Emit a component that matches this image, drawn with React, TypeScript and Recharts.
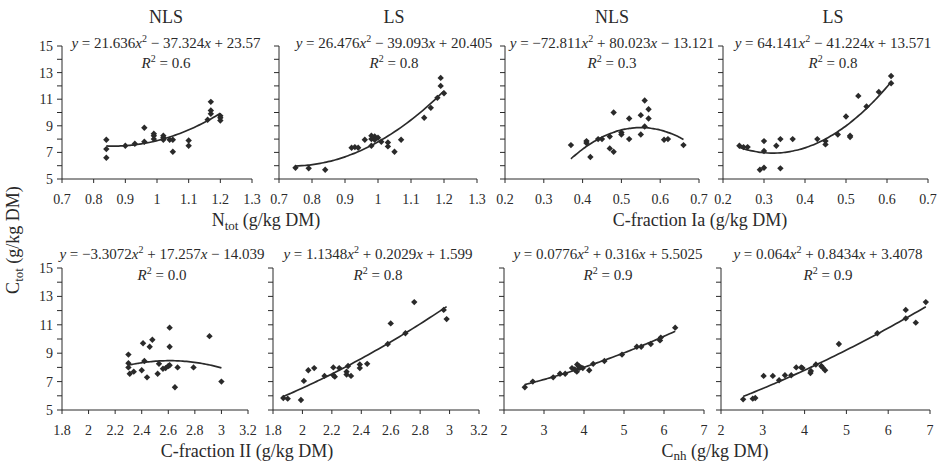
import React from 'react'
import { ScatterChart, Scatter, XAxis, YAxis } from 'recharts'

const FONT = 'Liberation Serif, DejaVu Serif, serif'
const INK = '#2a2a2a'

// N_tot (g/kg DM)
const nlsNtotX = [0.84, 0.84, 0.84, 0.9, 0.93, 0.96, 0.96, 0.99, 0.99, 0.99, 1.02, 1.02, 1.02, 1.04, 1.05, 1.05, 1.1, 1.1, 1.16, 1.17, 1.17, 1.17, 1.2, 1.2, 1.2]
const nlsNtotY = [7.95, 7.25, 6.6, 7.5, 7.65, 8.85, 7.8, 8.4, 8.25, 8.0, 8.25, 8.1, 7.95, 7.95, 7.95, 7.05, 7.9, 7.5, 9.45, 10.8, 10.15, 9.9, 9.75, 9.6, 9.4]
const lsNtotX = [0.75, 0.79, 0.84, 0.92, 0.93, 0.94, 0.96, 0.98, 0.98, 0.98, 0.99, 0.99, 1.0, 1.01, 1.03, 1.03, 1.05, 1.07, 1.14, 1.16, 1.18, 1.19, 1.19, 1.2]
const lsNtotY = [5.85, 5.8, 5.7, 7.35, 7.4, 7.35, 7.95, 7.5, 8.25, 8.0, 8.2, 7.95, 8.1, 7.8, 7.75, 7.45, 7.05, 7.95, 9.6, 10.35, 11.1, 12.6, 12.0, 11.45]

// C-fraction Ia
const nlsIaX = [0.37, 0.41, 0.41, 0.42, 0.44, 0.45, 0.47, 0.47, 0.48, 0.48, 0.5, 0.5, 0.52, 0.52, 0.55, 0.55, 0.56, 0.56, 0.57, 0.57, 0.61, 0.62, 0.66]
const nlsIaY = [7.55, 7.85, 7.7, 6.65, 8.0, 8.0, 8.2, 7.3, 10.0, 7.05, 8.5, 8.35, 9.55, 8.0, 9.8, 8.35, 10.9, 8.95, 10.25, 9.55, 7.95, 8.0, 7.55]
const lsIaX = [0.24, 0.25, 0.26, 0.29, 0.3, 0.3, 0.3, 0.33, 0.34, 0.34, 0.37, 0.43, 0.45, 0.45, 0.48, 0.5, 0.51, 0.51, 0.53, 0.55, 0.58, 0.61, 0.61]
const lsIaY = [7.5, 7.4, 7.4, 5.7, 7.85, 7.1, 5.85, 7.5, 8.0, 5.8, 8.0, 8.0, 7.85, 7.6, 8.35, 9.7, 8.25, 8.15, 11.25, 10.45, 11.55, 12.75, 12.2]

// C-fraction II
const nlsIIX = [2.3, 2.3, 2.3, 2.31, 2.34, 2.4, 2.41, 2.42, 2.44, 2.46, 2.48, 2.52, 2.53, 2.56, 2.58, 2.6, 2.61, 2.61, 2.61, 2.65, 2.67, 2.79, 2.91, 3.0]
const nlsIIY = [8.9, 8.3, 8.0, 7.55, 7.7, 7.8, 9.7, 8.45, 7.3, 9.45, 9.95, 7.55, 8.25, 7.9, 7.95, 8.1, 10.8, 9.45, 8.15, 6.6, 8.0, 8.0, 10.2, 7.0]
const lsIIX = [1.87, 1.9, 1.99, 2.01, 2.04, 2.08, 2.15, 2.21, 2.21, 2.22, 2.25, 2.3, 2.3, 2.31, 2.33, 2.39, 2.39, 2.44, 2.58, 2.6, 2.7, 2.76, 2.96, 2.98]
const lsIIY = [5.85, 5.8, 5.7, 7.05, 7.8, 7.95, 7.4, 8.0, 7.45, 7.35, 7.95, 7.7, 7.5, 8.1, 7.4, 8.2, 7.95, 8.25, 9.65, 11.1, 10.4, 12.6, 12.05, 11.4]

// C_nh
const nlsNhX = [2.52, 2.72, 3.23, 3.4, 3.53, 3.7, 3.77, 3.82, 3.83, 3.87, 3.88, 3.92, 3.97, 4.13, 4.23, 4.51, 4.95, 5.32, 5.43, 5.67, 5.9, 5.92, 6.28]
const nlsNhY = [6.6, 7.0, 7.3, 7.55, 7.55, 7.95, 7.85, 7.7, 8.2, 8.1, 7.95, 8.0, 7.95, 7.8, 8.25, 8.45, 8.9, 9.45, 9.45, 9.65, 9.9, 10.1, 10.8]
const lsNhX = [2.53, 2.76, 2.82, 3.02, 3.24, 3.39, 3.53, 3.68, 3.8, 3.92, 3.95, 4.14, 4.15, 4.27, 4.4, 4.43, 4.49, 4.82, 5.74, 6.42, 6.42, 6.66, 6.9]
const lsNhY = [5.75, 5.8, 5.85, 7.4, 7.4, 7.1, 7.45, 7.45, 8.0, 8.0, 7.95, 7.6, 7.75, 8.2, 8.1, 8.0, 7.8, 9.65, 10.4, 12.05, 11.45, 11.15, 12.6]

// quadratic trendline coefficients [a, b, c] for y = ax^2 + bx + c
const coefNlsNtot = [21.636, -37.324, 23.57]
const coefLsNtot = [26.476, -39.093, 20.405]
const coefNlsIa = [-72.811, 80.023, -13.121]
const coefLsIa = [64.141, -41.224, 13.571]
const coefNlsII = [-3.3072, 17.257, -14.039]
const coefLsII = [1.1348, 0.2029, 1.599]
const coefNlsNh = [0.0776, 0.316, 5.5025]
const coefLsNh = [0.064, 0.8434, 3.4078]

const rSquared = ['0.6', '0.8', '0.3', '0.8', '0.0', '0.8', '0.9', '0.9']
const groupTitles = ['NLS', 'LS', 'NLS', 'LS']

const yTicks = [5, 6, 7, 8, 9, 10, 11, 12, 13, 14, 15]
const ntotTicks = [0.7, 0.8, 0.9, 1, 1.1, 1.2, 1.3]
const iaTicks = [0.2, 0.3, 0.4, 0.5, 0.6, 0.7]
const iiTicks = [1.8, 2, 2.2, 2.4, 2.6, 2.8, 3, 3.2]
const nhTicks = [2, 3, 4, 5, 6, 7]

// plot rectangles [left, top, right, bottom] and label anchors
const panels = [
  { xs: nlsNtotX, ys: nlsNtotY, coef: coefNlsNtot, ticks: ntotTicks, box: [62, 46, 252, 179], labelX: 166, yLabels: true },
  { xs: lsNtotX, ys: lsNtotY, coef: coefLsNtot, ticks: ntotTicks, box: [279, 46, 477, 179], labelX: 394, yLabels: false },
  { xs: nlsIaX, ys: nlsIaY, coef: coefNlsIa, ticks: iaTicks, box: [505, 46, 699, 179], labelX: 612, yLabels: false },
  { xs: lsIaX, ys: lsIaY, coef: coefLsIa, ticks: iaTicks, box: [723, 46, 928, 179], labelX: 833, yLabels: false },
  { xs: nlsIIX, ys: nlsIIY, coef: coefNlsII, ticks: iiTicks, box: [62, 268, 248, 410], labelX: 162, yLabels: true },
  { xs: lsIIX, ys: lsIIY, coef: coefLsII, ticks: iiTicks, box: [273, 268, 479, 410], labelX: 378, yLabels: false },
  { xs: nlsNhX, ys: nlsNhY, coef: coefNlsNh, ticks: nhTicks, box: [504, 268, 704, 410], labelX: 608, yLabels: false },
  { xs: lsNhX, ys: lsNhY, coef: coefLsNh, ticks: nhTicks, box: [721, 268, 930, 410], labelX: 828, yLabels: false },
]

const ML = 40
const MR = 16
const MT = 10
const XH = 34

function trend(xs: number[], coef: number[]) {
  const lo = Math.min(...xs)
  const hi = Math.max(...xs)
  const n = 48
  const pts = []
  for (let i = 0; i <= n; i++) {
    const x = lo + ((hi - lo) * i) / n
    pts.push({ x, y: coef[0] * x * x + coef[1] * x + coef[2] })
  }
  return pts
}

const Diamond = (props: any) => {
  const { cx, cy } = props
  const r = 3.2
  return <polygon points={`${cx},${cy - r} ${cx + r},${cy} ${cx},${cy + r} ${cx - r},${cy}`} fill={INK} />
}

const NoDot = () => <g />

function signed(v: number) {
  return (v < 0 ? ' − ' : ' + ') + Math.abs(v)
}

function Equation({ coef, x, y }: { coef: number[]; x: number; y: number }) {
  const first = coef[0] < 0 ? '−' + Math.abs(coef[0]) : String(coef[0])
  return (
    <text x={x} y={y} textAnchor="middle" fontSize={15} fill={INK} style={{ fontFamily: FONT }}>
      <tspan fontStyle="italic">y</tspan>
      <tspan>{' = ' + first}</tspan>
      <tspan fontStyle="italic">x</tspan>
      <tspan dy={-6} fontSize={10}>2</tspan>
      <tspan dy={6}>{signed(coef[1])}</tspan>
      <tspan fontStyle="italic">x</tspan>
      <tspan>{signed(coef[2])}</tspan>
    </text>
  )
}

function Panel({ p }: { p: (typeof panels)[number] }) {
  const [x0, y0, x1, y1] = p.box
  const width = x1 - x0 + ML + MR
  const height = y1 - y0 + MT + XH
  const points = p.xs.map((x, i) => ({ x, y: p.ys[i] }))
  const tickStyle = { fill: INK, fontSize: 14, style: { fontFamily: FONT } }
  return (
    <div style={{ position: 'absolute', left: x0 - ML, top: y0 - MT }}>
      <ScatterChart width={width} height={height} margin={{ top: MT, right: MR, bottom: 0, left: 0 }} style={{ fontFamily: FONT }}>
        <XAxis
          type="number"
          dataKey="x"
          domain={[p.ticks[0], p.ticks[p.ticks.length - 1]]}
          ticks={p.ticks}
          interval={0}
          height={XH}
          tick={tickStyle}
          tickSize={4}
          tickMargin={11}
          axisLine={{ stroke: INK }}
          tickLine={{ stroke: INK }}
        />
        <YAxis
          type="number"
          dataKey="y"
          domain={[5, 15]}
          ticks={yTicks}
          interval={0}
          width={ML}
          tick={tickStyle}
          tickSize={5}
          tickMargin={4}
          tickFormatter={(v: number) => (p.yLabels && v % 2 === 1 ? String(v) : '')}
          axisLine={{ stroke: INK }}
          tickLine={{ stroke: INK }}
        />
        <Scatter data={points} shape={Diamond} isAnimationActive={false} />
        <Scatter
          data={trend(p.xs, p.coef)}
          shape={NoDot}
          line={{ stroke: INK, strokeWidth: 1.7 }}
          lineJointType="monotoneX"
          isAnimationActive={false}
        />
      </ScatterChart>
    </div>
  )
}

export default function App() {
  const label = { textAnchor: 'middle' as const, fontSize: 18, fill: INK, style: { fontFamily: FONT } }
  return (
    <div style={{ position: 'absolute', left: 0, top: 0, width: 939, height: 466, background: '#fff', fontFamily: FONT }}>
      {panels.map((p, i) => (
        <Panel key={i} p={p} />
      ))}
      <svg width={939} height={466} style={{ position: 'absolute', left: 0, top: 0, pointerEvents: 'none' }}>
        {groupTitles.map((t, i) => (
          <text key={t + i} x={panels[i].labelX} y={23} {...label}>
            {t}
          </text>
        ))}
        {panels.map((p, i) => {
          const top = i < 4
          return (
            <g key={i}>
              <Equation coef={p.coef} x={p.labelX} y={top ? 48 : 259} />
              <text x={p.labelX} y={top ? 68 : 280} textAnchor="middle" fontSize={15} fill={INK} style={{ fontFamily: FONT }}>
                <tspan fontStyle="italic">R</tspan>
                <tspan dy={-6} fontSize={10}>2</tspan>
                <tspan dy={6}>{' = ' + rSquared[i]}</tspan>
              </text>
            </g>
          )
        })}
        <text x={266} y={226} {...label}>
          N<tspan dy={4} fontSize={13}>tot</tspan>
          <tspan dy={-4}> (g/kg DM)</tspan>
        </text>
        <text x={700} y={226} {...label}>
          C-fraction Ia (g/kg DM)
        </text>
        <text x={247} y={457} {...label}>
          C-fraction II (g/kg DM)
        </text>
        <text x={715} y={457} {...label}>
          C<tspan dy={3} fontSize={13}>nh</tspan>
          <tspan dy={-3}> (g/kg DM)</tspan>
        </text>
        <text x={0} y={0} transform="translate(19,240) rotate(-90)" {...label}>
          C<tspan dy={4} fontSize={13}>tot</tspan>
          <tspan dy={-4}> (g/kg DM)</tspan>
        </text>
      </svg>
    </div>
  )
}
